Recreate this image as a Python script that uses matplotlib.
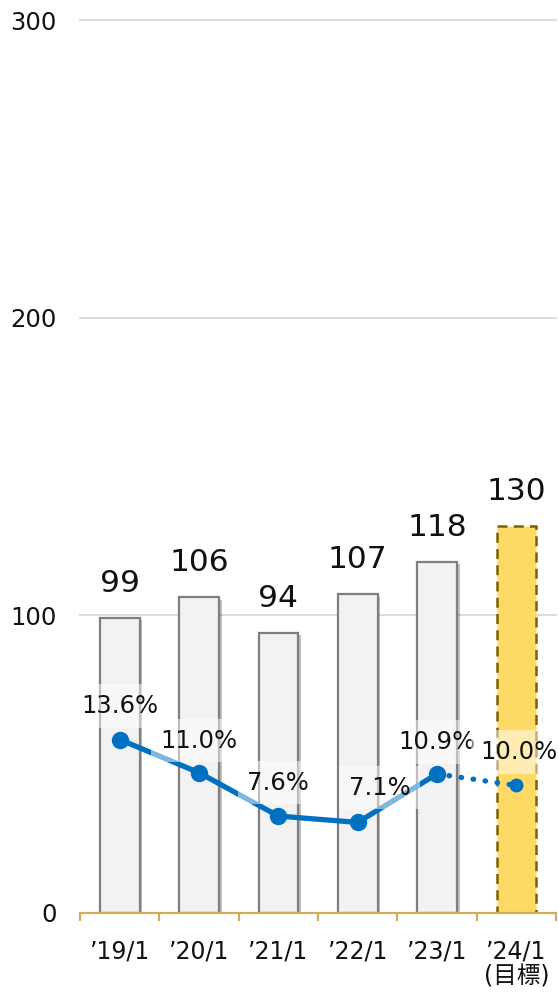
import matplotlib
matplotlib.use("Agg")
import matplotlib.pyplot as plt
import matplotlib.patheffects as pe
import numpy as np

plt.rcParams['font.family'] = ['DejaVu Sans', 'Noto Sans CJK JP']

categories = ["’19/1", "’20/1", "’21/1", "’22/1", "’23/1", "’24/1\n(目標)"]
sales = [99, 106, 94, 107, 118, 130]
ratio = [13.6, 11.0, 7.6, 7.1, 10.9, 10.0]
ratio_labels = ["13.6%", "11.0%", "7.6%", "7.1%", "10.9%", "10.0%"]
label_dx = [0, 0, 0, 16, 0, 2]   # points
label_dy = [24, 23, 24, 25, 23, 24]

fig = plt.figure(figsize=(5.58, 9.92), dpi=100)
ax = fig.add_axes([80/558, 1-913/992, (556-80)/558, (913-20)/992])
x = np.arange(len(categories))

shadow = [pe.SimplePatchShadow(offset=(2, -1.5), alpha=0.25, shadow_rgbFace='black'), pe.Normal()]
for i in range(len(categories)):
    if i < len(categories) - 1:
        b = ax.bar(x[i], sales[i], width=0.5, color='#F2F2F2', edgecolor='#7F7F7F',
                   linewidth=1.6, zorder=2)
        b[0].set_path_effects(shadow)
    else:
        b = ax.bar(x[i], sales[i], width=0.5, color='#FFD966', edgecolor='#7F6000',
                   linewidth=1.8, linestyle=(0, (4, 2.5)), zorder=2)
    ax.annotate(str(sales[i]), (x[i], sales[i]), xytext=(0, 25), textcoords='offset points',
                ha='center', va='center', fontsize=22.5, color='#111111', zorder=5)

ax.set_xlim(-0.5, len(categories) - 0.5)
ax.set_ylim(0, 300)
ax.set_yticks([0, 100, 200, 300])
ax.yaxis.grid(True, color='#D9D9D9', linewidth=1.3, zorder=0)
ax.set_axisbelow(True)
for gl in ax.get_ygridlines():
    gl.set_clip_on(False)
ax.tick_params(axis='y', length=0, pad=17, labelsize=17.5, labelcolor='#111111')
for s in ['top', 'right', 'left']:
    ax.spines[s].set_visible(False)
ax.spines['bottom'].set_color('#CDAE5A')
ax.spines['bottom'].set_linewidth(1.6)
ax.set_xticks(x)
ax.set_xticklabels(categories, fontsize=17, color='#111111', linespacing=1.05)
ax.set_xticks(np.arange(-0.5, len(categories)), minor=True)
ax.tick_params(axis='x', which='major', length=0, pad=19)
ax.tick_params(axis='x', which='minor', length=6, width=1.6, color='#CDAE5A')

ax2 = ax.twinx()
ax2.set_ylim(0, 70)
ax2.axis('off')
blue = '#0070C0'
ax2.plot(x[:5], ratio[:5], color=blue, linewidth=3.8, marker='o', markersize=11.5,
         solid_capstyle='round', zorder=3)
ax2.plot(x[4:6], ratio[4:6], color=blue, linewidth=3.8, linestyle=(0, (0.1, 2.2)),
         dash_capstyle='round', zorder=3)
ax2.plot(x[5], ratio[5], color=blue, marker='o', markersize=9, zorder=3,
         markeredgecolor=blue)
for i in range(len(ratio)):
    ax2.annotate(ratio_labels[i], (x[i], ratio[i]), xytext=(label_dx[i], label_dy[i]),
                 textcoords='offset points', ha='center', va='center', fontsize=17.5,
                 color='#111111', zorder=6,
                 bbox=dict(boxstyle='square,pad=0.4', facecolor='white', edgecolor='none', alpha=0.5))

fig.savefig('out.png', dpi=100)
